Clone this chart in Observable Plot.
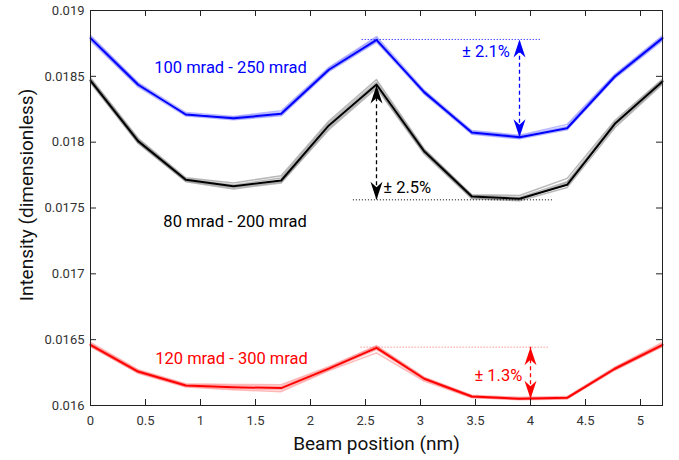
<!DOCTYPE html>
<html>
<head>
<meta charset="utf-8">
<script src="https://cdn.jsdelivr.net/npm/d3@7"></script>
<script src="https://cdn.jsdelivr.net/npm/@observablehq/plot@0.6"></script>
<style>
  html, body { margin: 0; padding: 0; background: #fff; }
  #chart { width: 679px; height: 460px; }
</style>
</head>
<body>
<div id="chart"></div>
<script>
// Beam positions (nm)
const xs = [0, 0.4333, 0.8667, 1.3, 1.7333, 2.1667, 2.6, 3.0333, 3.4667, 3.9, 4.3333, 4.7667, 5.2];

// 100 mrad - 250 mrad (blue)
const blueMain = [0.01879, 0.018436, 0.01821, 0.018182, 0.018215, 0.01855, 0.018777, 0.01838, 0.018073, 0.018038, 0.018106, 0.018499, 0.01879];
const blueRun1 = [0.01881, 0.018452, 0.018225, 0.018195, 0.018238, 0.018568, 0.018802, 0.018395, 0.018088, 0.018052, 0.018135, 0.018515, 0.01881];
const blueRun2 = [0.01877, 0.01842, 0.018198, 0.01817, 0.0182, 0.018535, 0.01876, 0.018365, 0.01806, 0.018025, 0.018095, 0.018485, 0.01877];
const blueRun3 = [0.0188, 0.018445, 0.018205, 0.01819, 0.018225, 0.01856, 0.01879, 0.018372, 0.01808, 0.018045, 0.01812, 0.018508, 0.0188];
const blueRun4 = [0.01878, 0.018428, 0.018215, 0.018175, 0.018208, 0.018545, 0.018768, 0.018388, 0.018066, 0.018032, 0.018112, 0.018492, 0.01878];

// 80 mrad - 200 mrad (black)
const blackMain = [0.018468, 0.018008, 0.017714, 0.017666, 0.017709, 0.018127, 0.018438, 0.017931, 0.017587, 0.01757, 0.017676, 0.018139, 0.018461];
const blackRun1 = [0.01849, 0.01803, 0.01773, 0.01769, 0.017745, 0.01816, 0.018475, 0.01795, 0.0176, 0.017595, 0.017725, 0.018165, 0.01848];
const blackRun2 = [0.01845, 0.01799, 0.0177, 0.017645, 0.01769, 0.018095, 0.01841, 0.01791, 0.01757, 0.017555, 0.017655, 0.01811, 0.01844];
const blackRun3 = [0.01848, 0.01802, 0.01772, 0.017675, 0.017728, 0.018145, 0.018455, 0.01794, 0.017595, 0.01758, 0.0177, 0.01815, 0.01847];
const blackRun4 = [0.01846, 0.017998, 0.017706, 0.017655, 0.0177, 0.01811, 0.018425, 0.017922, 0.017578, 0.017562, 0.01769, 0.018125, 0.01845];

// 120 mrad - 300 mrad (red)
const redMain = [0.016461, 0.016258, 0.016152, 0.016139, 0.016132, 0.01628, 0.016438, 0.016203, 0.016068, 0.016051, 0.016058, 0.016279, 0.016461];
const redRun1 = [0.01648, 0.016272, 0.016165, 0.01616, 0.016158, 0.016295, 0.016455, 0.016215, 0.016078, 0.016062, 0.016068, 0.016292, 0.01648];
const redRun2 = [0.01645, 0.016245, 0.01614, 0.01612, 0.016105, 0.016265, 0.0164, 0.016185, 0.016058, 0.016044, 0.01605, 0.016268, 0.01645];
const redRun3 = [0.01647, 0.016265, 0.016158, 0.01615, 0.016145, 0.016288, 0.016448, 0.01621, 0.016073, 0.016056, 0.016063, 0.016285, 0.01647];
const redRun4 = [0.01645, 0.01625, 0.016146, 0.01613, 0.01612, 0.016272, 0.016425, 0.016195, 0.016062, 0.016047, 0.016054, 0.016272, 0.01645];

const seriesNames = ["100 mrad - 250 mrad", "80 mrad - 200 mrad", "120 mrad - 300 mrad"];
const seriesColors = ["#0000ff", "#000000", "#ff0000"];
const seriesLabelX = [1.273, 1.314, 1.282];
const seriesLabelY = [0.018563, 0.017398, 0.016357];

// spread annotations
const spreadLabels = ["± 2.1%", "± 2.5%", "± 1.3%"];
const spreadLabelX = [3.595, 2.879, 3.708];
const spreadLabelY = [0.018689, 0.017652, 0.016228];
const spreadArrowX = [3.9, 2.6, 4.0];
const spreadHigh = [0.01878, 0.01843, 0.016443];
const spreadLow = [0.018038, 0.017562, 0.016051];
const refLineY = [0.01878, 0.017562, 0.016443];
const refLineX1 = [2.47, 2.39, 2.46];
const refLineX2 = [4.09, 4.2, 4.17];

// axes
const xTicks = [0, 0.5, 1, 1.5, 2, 2.5, 3, 3.5, 4, 4.5, 5];
const xTickLabels = ["0", "0.5", "1", "1.5", "2", "2.5", "3", "3.5", "4", "4.5", "5"];
const yTicks = [0.016, 0.0165, 0.017, 0.0175, 0.018, 0.0185, 0.019];
const yTickLabels = ["0.016", "0.0165", "0.017", "0.0175", "0.018", "0.0185", "0.019"];
const xLabel = "Beam position (nm)";
const yLabel = "Intensity (dimensionless)";

// ---- build tables ----
const mains = [blueMain, blackMain, redMain];
const runs = [[blueRun1, blueRun2, blueRun3, blueRun4], [blackRun1, blackRun2, blackRun3, blackRun4], [redRun1, redRun2, redRun3, redRun4]];
const faintRows = [];
const mainRows = [];
runs.forEach((set, g) => set.forEach((r, k) => r.forEach((v, i) => faintRows.push({x: xs[i], y: v, key: g + "-" + k, color: seriesColors[g]}))));
mains.forEach((m, g) => m.forEach((v, i) => mainRows.push({x: xs[i], y: v, key: "m" + g, color: seriesColors[g]})));

const seriesLabelRows = seriesNames.map((t, i) => ({x: seriesLabelX[i], y: seriesLabelY[i], text: t, color: seriesColors[i]}));
const spreadLabelRows = spreadLabels.map((t, i) => ({x: spreadLabelX[i], y: spreadLabelY[i], text: t, color: seriesColors[i]}));
const arrowRows = spreadArrowX.map((x, i) => ({x, y1: spreadLow[i], y2: spreadHigh[i], color: seriesColors[i]}));
const headRows = [];
spreadArrowX.forEach((x, i) => {
  headRows.push({x, y: spreadHigh[i], rot: 0, color: seriesColors[i]});
  headRows.push({x, y: spreadLow[i], rot: 180, color: seriesColors[i]});
});
const refRows = refLineY.map((y, i) => ({y, x1: refLineX1[i], x2: refLineX2[i], color: seriesColors[i], op: i === 2 ? 0.6 : 1}));

// notched arrowhead, tip at origin, pointing up
const arrowHead = {
  draw(context) {
    context.moveTo(0, 0);
    context.lineTo(6, 18);
    context.lineTo(0, 12.5);
    context.lineTo(-6, 18);
    context.closePath();
  }
};

const W = 679, H = 460;
const mL = 90, mR = 17, mT = 10, mB = 55;
const innerW = W - mL - mR, innerH = H - mT - mB;
const tickLen = 6;

const chart = Plot.plot({
  width: W,
  height: H,
  marginLeft: mL,
  marginRight: mR,
  marginTop: mT,
  marginBottom: mB,
  style: {fontFamily: "Roboto, sans-serif", background: "#fff", overflow: "visible"},
  x: {domain: [0, 5.2]},
  y: {domain: [0.016, 0.019]},
  marks: [
    Plot.line(faintRows, {x: "x", y: "y", z: "key", stroke: "color", strokeOpacity: 0.28, strokeWidth: 1.5}),
    Plot.line(mainRows, {x: "x", y: "y", z: "key", stroke: "color", strokeWidth: 2}),
    Plot.ruleY(refRows, {y: "y", x1: "x1", x2: "x2", stroke: "color", strokeOpacity: "op", strokeWidth: 1, strokeDasharray: "1,2"}),
    Plot.ruleX(arrowRows, {x: "x", y1: "y1", y2: "y2", stroke: "color", strokeWidth: 1.3, strokeDasharray: "4,3"}),
    Plot.dot(headRows, {x: "x", y: "y", symbol: arrowHead, rotate: "rot", fill: "color", stroke: "none"}),
    Plot.text(seriesLabelRows, {x: "x", y: "y", text: "text", fill: "color", fontSize: 16.5}),
    Plot.text(spreadLabelRows, {x: "x", y: "y", text: "text", fill: "color", fontSize: 16.5}),
    Plot.frame({stroke: "#222", strokeWidth: 1}),
    // inward ticks
    Plot.tickX(xTicks, {x: d => d, insetTop: innerH - tickLen, stroke: "#222"}),
    Plot.tickX(xTicks, {x: d => d, insetBottom: innerH - tickLen, stroke: "#222"}),
    Plot.tickY(yTicks, {y: d => d, insetRight: innerW - tickLen, stroke: "#222"}),
    Plot.tickY(yTicks, {y: d => d, insetLeft: innerW - tickLen, stroke: "#222"}),
    Plot.axisX({ticks: xTicks, tickSize: 0, tickPadding: 10, tickFormat: (d, i) => xTickLabels[i], fontSize: 13, fill: "#333", label: null}),
    Plot.axisY({ticks: yTicks, tickSize: 0, tickPadding: 6, tickFormat: (d, i) => yTickLabels[i], fontSize: 13, fill: "#333", label: null}),
    Plot.text([xLabel], {frameAnchor: "bottom", textAnchor: "middle", lineAnchor: "middle", dy: 38, text: d => d, fontSize: 19, fill: "#111"}),
    Plot.text([yLabel], {frameAnchor: "left", textAnchor: "middle", lineAnchor: "middle", dx: -64, dy: -13, rotate: -90, text: d => d, fontSize: 19, fill: "#111"})
  ]
});
document.getElementById("chart").appendChild(chart);
</script>
</body>
</html>
